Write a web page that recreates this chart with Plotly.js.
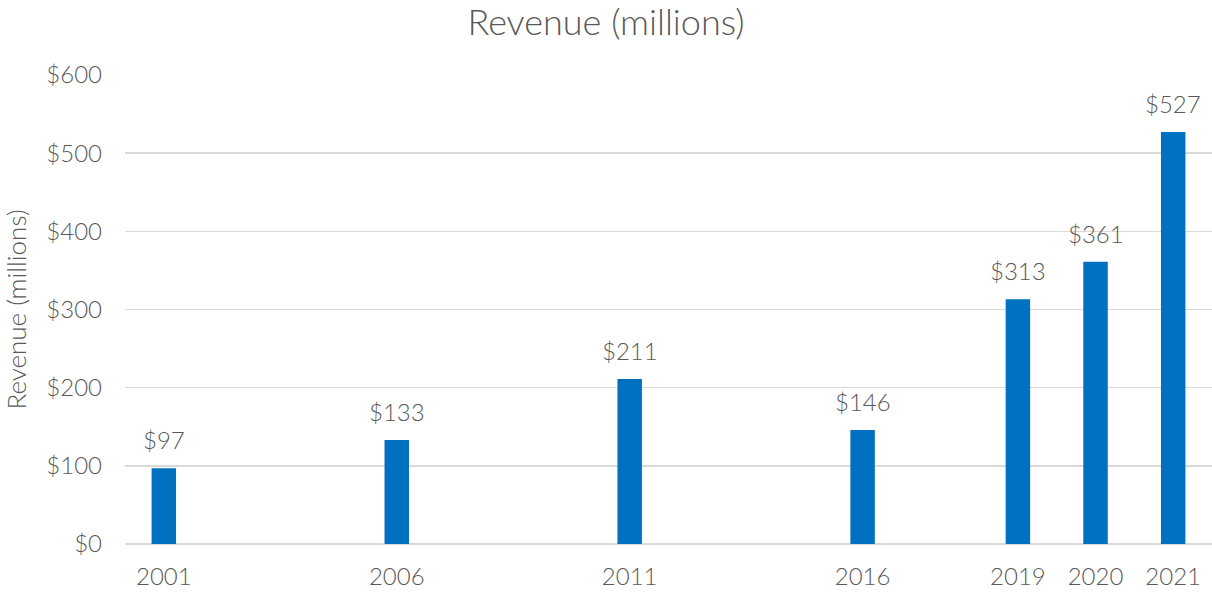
<!DOCTYPE html>
<html>
<head>
<meta charset="utf-8">
<script src="https://cdn.plot.ly/plotly-3.0.1.min.js"></script>
<style>
  html, body { margin: 0; padding: 0; background: #fff; }
  #chart { width: 1212px; height: 593px; }
</style>
</head>
<body>
<div id="chart"></div>
<script>
// revenue per year, in millions of dollars
var years = ['2001', '2006', '2011', '2016', '2019', '2020', '2021'];
var revenue = [97, 133, 211, 146, 313, 361, 527];
// empty category slots before each year (the source axis leaves gaps)
var gapsBefore = [0, 2, 2, 2, 1, 0, 0];

var grey = '#595959';
var fontFam = 'Lato, "Open Sans", sans-serif';

// slot index of every bar along the axis
var slots = [];
var pos = -1;
for (var i = 0; i < years.length; i++) {
    pos += gapsBefore[i] + 1;
    slots.push(pos);
}

var bars = {
    type: 'bar',
    x: slots,
    y: revenue,
    width: 0.315,
    marker: { color: '#0070c0' },
    hoverinfo: 'skip'
};

// value labels sit a little above each bar, like the Excel original
var labels = revenue.map(function (v, k) {
    return {
        x: slots[k], y: v, xref: 'x', yref: 'y',
        text: '$' + v, showarrow: false,
        yanchor: 'bottom', yshift: 12,
        font: { family: fontFam, size: 24, color: grey, weight: 300 }
    };
});

var layout = {
    width: 1212,
    height: 593,
    margin: { l: 125, r: 0, t: 75, b: 49 },
    paper_bgcolor: '#fff',
    plot_bgcolor: '#fff',
    showlegend: false,
    title: {
        text: 'Revenue (millions)',
        x: 0.5, xanchor: 'center',
        y: 0.962, yanchor: 'middle',
        font: { family: fontFam, size: 36, color: grey, weight: 300 }
    },
    xaxis: {
        range: [-0.5, pos + 0.5],
        tickvals: slots,
        ticktext: years,
        showgrid: false,
        zeroline: false,
        showline: false,
        ticks: '',
        ticklabelstandoff: 16,
        tickfont: { family: fontFam, size: 24, color: grey, weight: 300 },
        fixedrange: true
    },
    yaxis: {
        range: [0, 600],
        dtick: 100,
        tickprefix: '$',
        showgrid: true,
        gridcolor: '#d9d9d9',
        gridwidth: 1.5,
        zeroline: true,
        zerolinecolor: '#d9d9d9',
        zerolinewidth: 1.5,
        ticks: '',
        ticklabelstandoff: 22,
        automargin: false,
        tickfont: { family: fontFam, size: 24, color: grey, weight: 300 },
        title: {
            text: 'Revenue (millions)',
            standoff: 13,
            font: { family: fontFam, size: 26, color: grey, weight: 300 }
        },
        fixedrange: true
    },
    annotations: labels
};

Plotly.newPlot('chart', [bars], layout, { displayModeBar: false, staticPlot: true });
</script>
</body>
</html>
